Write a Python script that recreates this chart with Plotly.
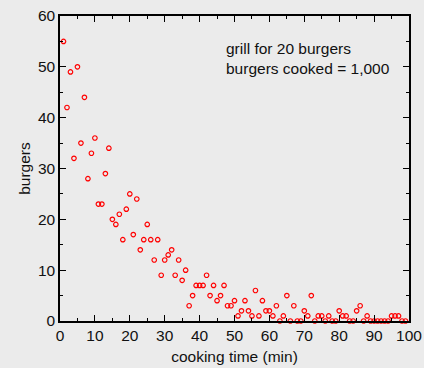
import plotly.graph_objects as go

# Burgers on the grill, one reading per minute of cooking
minutes = list(range(1, 100))
burgers = [
    55, 42, 49, 32, 50, 35, 44, 28, 33, 36,
    23, 23, 29, 34, 20, 19, 21, 16, 22, 25,
    17, 24, 14, 16, 19, 16, 12, 16, 9, 12,
    13, 14, 9, 12, 8, 10, 3, 5, 7, 7,
    7, 9, 5, 7, 4, 5, 7, 3, 3, 4,
    1, 2, 4, 2, 1, 6, 1, 4, 2, 2,
    1, 3, 0, 1, 5, 0, 3, 0, 0, 2,
    1, 5, 0, 1, 1, 0, 1, 0, 0, 2,
    1, 1, 0, 0, 2, 3, 0, 1, 0, 0,
    0, 0, 0, 0, 1, 1, 1, 0, 0,
]
note_lines = ["grill for 20 burgers", "burgers cooked = 1,000"]

bg = "#ebebeb"
font = dict(family="Liberation Sans, Arial, sans-serif", size=15.5, color="#111111")

fig = go.Figure()
fig.add_trace(go.Scatter(
    x=minutes, y=burgers, mode="markers",
    marker=dict(symbol="circle-open", size=4.5, color="red", line=dict(width=1.2, color="red")),
    cliponaxis=False, showlegend=False,
))

axis_common = dict(
    showgrid=False, zeroline=False, showline=True, linecolor="black", linewidth=1.5,
    mirror="allticks", ticks="inside", ticklen=6, tickwidth=1.2, tickcolor="black",
    tickfont=font, automargin=False,
    minor=dict(ticks="inside", ticklen=3, tickwidth=1, tickcolor="black", dtick=5),
)

fig.update_xaxes(range=[0, 100], dtick=10, title=dict(text="cooking time (min)", font=font, standoff=8), **axis_common)
fig.update_yaxes(range=[0, 60], dtick=10, title=dict(text="burgers", font=font, standoff=3), **axis_common)

fig.add_annotation(
    x=47, y=51.7, xref="x", yref="y", xanchor="left", yanchor="middle",
    text="<br>".join(note_lines), align="left", showarrow=False, font=font,
)

fig.update_layout(
    width=424, height=368, paper_bgcolor=bg, plot_bgcolor=bg,
    margin=dict(l=60, r=15, t=16, b=47), font=font,
)

fig.write_html("out.html")
